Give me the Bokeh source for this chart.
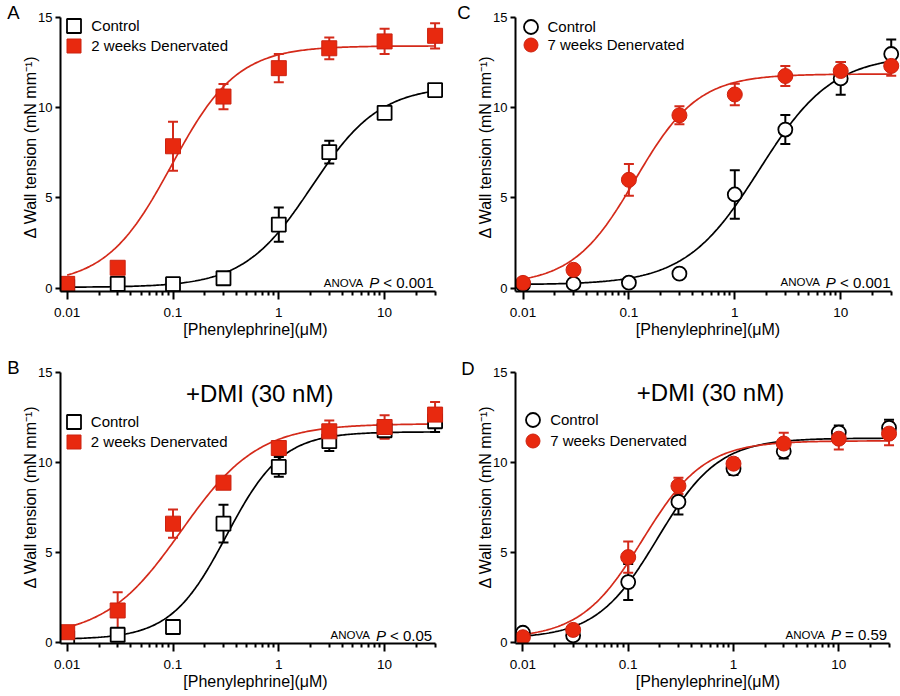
import numpy as np
from bokeh.plotting import figure
from bokeh.models import (Range1d, FixedTicker, Whisker, TeeHead, ColumnDataSource,
                          Label, Legend, LegendItem, LinearAxis)
from bokeh.layouts import column, row
from bokeh.embed import file_html
from bokeh.resources import INLINE

FONT = "Liberation Sans"
RED = "#e8290f"
RED_EDGE = "#cc2210"
RED_LINE = "#d42a1a"

# ---------------- data ----------------
conc = [0.01, 0.03, 0.1, 0.3, 1, 3, 10, 30]
x_ticks = [0.01, 0.1, 1, 10]
x_tick_labels = ["0.01", "0.1", "1", "10"]
x_minor = [0.02, 0.03, 0.04, 0.05, 0.06, 0.07, 0.08, 0.09,
           0.2, 0.3, 0.4, 0.5, 0.6, 0.7, 0.8, 0.9,
           2, 3, 4, 5, 6, 7, 8, 9, 20, 30]
y_ticks = [0, 5, 10, 15]

# Panel A: 2 weeks denervated
a_ctrl = [0.1, 0.24, 0.22, 0.55, 3.52, 7.53, 9.7, 10.96]
a_ctrl_err = [0.1, 0.1, 0.1, 0.2, 0.95, 0.63, 0.3, 0.3]
a_den = [0.24, 1.13, 7.85, 10.6, 12.17, 13.27, 13.65, 13.96]
a_den_err = [0.1, 0.2, 1.35, 0.7, 0.78, 0.6, 0.7, 0.7]
a_ctrl_fit = [0.05, 11.2, 2.05, 1.35]   # bottom, top, EC50, Hill slope
a_den_fit = [0.2, 13.4, 0.097, 1.4]

# Panel C: 7 weeks denervated
c_ctrl = [0.2, 0.25, 0.31, 0.81, 5.19, 8.78, 11.61, 12.96]
c_ctrl_err = [0.1, 0.1, 0.1, 0.2, 1.34, 0.8, 0.9, 0.8]
c_den = [0.3, 1.02, 6.0, 9.57, 10.72, 11.74, 12.02, 12.3]
c_den_err = [0.1, 0.2, 0.88, 0.5, 0.6, 0.55, 0.5, 0.55]
c_ctrl_fit = [0.2, 12.9, 1.7, 1.25]
c_den_fit = [0.2, 11.85, 0.115, 1.47]

# Panel B: 2 weeks denervated + DMI
b_ctrl = [0.24, 0.41, 0.84, 6.59, 9.75, 11.18, 11.79, 12.29]
b_ctrl_err = [0.1, 0.2, 0.2, 1.05, 0.55, 0.55, 0.4, 0.6]
b_den = [0.55, 1.76, 6.59, 8.87, 10.8, 11.73, 11.97, 12.66]
b_den_err = [0.1, 1.02, 0.79, 0.3, 0.3, 0.6, 0.65, 0.7]
b_ctrl_fit = [0.15, 11.7, 0.32, 1.65]
b_den_fit = [0.25, 12.15, 0.12, 1.2]

# Panel D: 7 weeks denervated + DMI
d_ctrl = [0.52, 0.37, 3.34, 7.8, 9.65, 10.62, 11.66, 11.92]
d_ctrl_err = [0.1, 0.1, 1.0, 0.7, 0.35, 0.4, 0.4, 0.45]
d_den = [0.27, 0.68, 4.73, 8.69, 9.93, 11.05, 11.32, 11.6]
d_den_err = [0.1, 0.1, 0.87, 0.45, 0.3, 0.6, 0.6, 0.65]
d_ctrl_fit = [0.2, 11.35, 0.19, 1.5]
d_den_fit = [0.2, 11.2, 0.137, 1.48]

# ---------------- helpers ----------------
CW = {'0': .556, '1': .556, '5': .556, '9': .556, '.': .278, ' ': .278, '<': .584, '=': .584}


def text_w(s, size):
    return sum(CW.get(ch, .556) for ch in s) * size


def hill(x, fit):
    b, t, ec, h = fit
    return b + (t - b) / (1.0 + (ec / x) ** h)


def make_panel(g, ctrl, ctrl_err, den, den_err, ctrl_fit, den_fit, marker,
               den_label, p_text, letter, title=None):
    def dx(px):
        return 10 ** (-2 + (px - g['x0']) / g['dec'])

    def dy(py):
        return (g['y0'] - py) / g['unit']

    xs, xe = dx(g['fl']), dx(g['fr'])
    ys, ye = dy(g['fb']), dy(g['ft'])
    p = figure(width=g['w'], height=g['h'], x_axis_type="log",
               x_range=Range1d(xs, xe), y_range=Range1d(ys, ye),
               output_backend="svg", toolbar_location=None, tools="",
               min_border_left=g['fl'] - g['fx'], min_border_right=g['fx'] + g['w'] - g['fr'],
               min_border_top=g['ft'] - g['fy'], min_border_bottom=g['fy'] + g['h'] - g['fb'])
    p.outline_line_color = None
    p.grid.visible = False
    p.background_fill_color = "white"
    p.border_fill_color = "white"

    xa = p.xaxis[0]
    xa.ticker = FixedTicker(ticks=x_ticks, minor_ticks=x_minor)
    xa.major_label_overrides = {t: l for t, l in zip(x_ticks, x_tick_labels)}
    xa.bounds = (xs, 30)
    xa.axis_label = "[Phenylephrine](μM)"
    xa.axis_label_standoff = 1
    xa.major_label_standoff = 8
    xa.major_tick_out = 8
    xa.major_tick_in = 0
    xa.minor_tick_out = 4
    xa.minor_tick_in = 0
    xa.major_label_text_font_size = "13.5px"

    ya = p.yaxis[0]
    ya.ticker = FixedTicker(ticks=y_ticks, minor_ticks=[])
    ya.bounds = (ys, 15)
    ya.axis_label = "Δ Wall tension (mN mm⁻¹)"
    try:
        ya.axis_label_standoff = -4
    except Exception:
        ya.axis_label_standoff = 0
    ya.major_label_standoff = 3
    ya.major_tick_out = 5
    ya.major_tick_in = 0
    ya.minor_tick_out = 0
    ya.minor_tick_in = 0
    ya.axis_label_text_line_height = 1.0
    ya.major_label_text_font_size = "13px"

    for ax in (xa, ya):
        ax.axis_line_width = 2
        ax.axis_line_color = "black"
        ax.major_tick_line_width = 2
        ax.minor_tick_line_width = 2
        ax.major_tick_line_color = "black"
        ax.minor_tick_line_color = "black"
        ax.major_label_text_font = FONT
        ax.major_label_text_color = "black"
        ax.axis_label_text_font = FONT
        ax.axis_label_text_font_size = "16px"
        ax.axis_label_text_font_style = "normal"
        ax.axis_label_text_color = "black"

    # panel letter, drawn as the single tick label of an outer, invisible left axis
    tv = round(dy(g['ly']), 3)
    la = LinearAxis(ticker=FixedTicker(ticks=[tv], minor_ticks=[]),
                    major_label_overrides={tv: letter},
                    axis_line_color=None, major_tick_line_color=None,
                    minor_tick_line_color=None, major_tick_out=0, major_tick_in=0,
                    minor_tick_out=0, minor_tick_in=0, major_label_standoff=g['lso'],
                    major_label_text_font=FONT, major_label_text_font_size="18.5px",
                    major_label_text_color="black")
    p.add_layout(la, "left")

    # error bars
    for vals, errs, col in ((ctrl, ctrl_err, "black"), (den, den_err, RED_LINE)):
        src = ColumnDataSource(dict(x=conc,
                                    upper=[v + e for v, e in zip(vals, errs)],
                                    lower=[v - e for v, e in zip(vals, errs)]))
        p.add_layout(Whisker(source=src, base="x", upper="upper", lower="lower",
                             dimension="height", line_color=col, line_width=2,
                             upper_head=TeeHead(size=10, line_color=col, line_width=2),
                             lower_head=TeeHead(size=10, line_color=col, line_width=2)))

    # fitted curves
    xc = np.logspace(-2, np.log10(30), 240)
    p.line(xc, hill(xc, ctrl_fit), line_color="black", line_width=1.7)
    p.line(xc, hill(xc, den_fit), line_color=RED_LINE, line_width=1.7)

    r_ctrl = p.scatter(conc, ctrl, marker=marker, size=14, fill_color="white",
                       line_color="black", line_width=1.8)
    r_den = p.scatter(conc, den, marker=marker, size=15, fill_color=RED,
                      line_color=RED_EDGE, line_width=1)

    # legend: one single-item legend per row
    gh = 35
    for i, (lab, rr) in enumerate((("Control", r_ctrl), (den_label, r_den))):
        myi = g['my'] + i * g['pitch']
        p.add_layout(Legend(items=[LegendItem(label=lab, renderers=[rr])],
                            location=(g['mx'] - gh / 2 - g['fl'], g['fb'] - (myi + gh / 2)),
                            glyph_width=gh, glyph_height=gh, label_standoff=0,
                            padding=0, margin=0, border_line_color=None,
                            background_fill_alpha=0, label_text_font=FONT,
                            label_text_font_size="15px", label_text_color="black"))

    # ANOVA annotation
    R = dx(g['ar'])
    yb = dy(g['ab'])
    w_rest = text_w(p_text, 15)
    p_off = -(w_rest + 0.278 * 15)
    an_off = p_off - 0.667 * 15 - 6
    p.add_layout(Label(x=R, y=yb, text=p_text, text_font=FONT, text_font_size="15px",
                       text_align="right", text_baseline="alphabetic", text_color="black"))
    p.add_layout(Label(x=R, y=yb, x_offset=p_off, text="P", text_font=FONT,
                       text_font_size="15px", text_font_style="italic",
                       text_align="right", text_baseline="alphabetic", text_color="black"))
    p.add_layout(Label(x=R, y=yb, x_offset=an_off, text="ANOVA", text_font=FONT,
                       text_font_size="11.5px", text_align="right",
                       text_baseline="alphabetic", text_color="black"))

    if title:
        p.add_layout(Label(x=dx(g['tcx']), y=dy(g['tby']), text=title, text_font=FONT,
                           text_font_size="24px", text_align="center",
                           text_baseline="alphabetic", text_color="black"))
    return p


gA = dict(fx=0, fy=0, w=450, h=348, fl=60, fr=450, ft=2, fb=291, x0=66.7, dec=105.8,
          y0=287.7, unit=18.08, mx=73.8, my=25.5, pitch=20, tx=87.3,
          ar=433.3, ab=282.3, ly=11.7, lso=0)
gC = dict(fx=450, fy=0, w=450, h=348, fl=515, fr=900, ft=2, fb=291, x0=522.5, dec=105.9,
          y0=287.8, unit=18.08, mx=530, my=26, pitch=18.3, tx=544.3,
          ar=890, ab=281.7, ly=11.5, lso=4)
gB = dict(fx=0, fy=348, w=450, h=348, fl=60, fr=450, ft=350, fb=643, x0=66.7, dec=105.8,
          y0=641.6, unit=17.97, mx=73.3, my=421.3, pitch=20, tx=87.3,
          ar=431.7, ab=634.7, ly=367, lso=0, tcx=259.2, tby=393)
gD = dict(fx=450, fy=348, w=450, h=348, fl=515, fr=900, ft=350, fb=643, x0=522.4, dec=105.3,
          y0=641.6, unit=17.97, mx=532.7, my=419.7, pitch=20.6, tx=546.7,
          ar=886.7, ab=634.3, ly=368, lso=0, tcx=710, tby=392)

pA = make_panel(gA, a_ctrl, a_ctrl_err, a_den, a_den_err, a_ctrl_fit, a_den_fit,
                "square", "2 weeks Denervated", "< 0.001", "A")
pC = make_panel(gC, c_ctrl, c_ctrl_err, c_den, c_den_err, c_ctrl_fit, c_den_fit,
                "circle", "7 weeks Denervated", "< 0.001", "C")
pB = make_panel(gB, b_ctrl, b_ctrl_err, b_den, b_den_err, b_ctrl_fit, b_den_fit,
                "square", "2 weeks Denervated", "< 0.05", "B", title="+DMI (30 nM)")
pD = make_panel(gD, d_ctrl, d_ctrl_err, d_den, d_den_err, d_ctrl_fit, d_den_fit,
                "circle", "7 weeks Denervated", "= 0.59", "D", title="+DMI (30 nM)")

layout = column(row(pA, pC), row(pB, pD))
open("out.html", "w").write(file_html(layout, INLINE))
